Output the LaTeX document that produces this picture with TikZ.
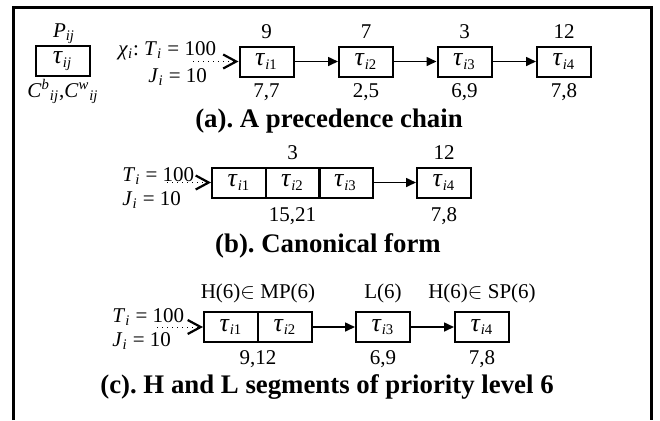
\documentclass[tikz,border=0pt]{standalone}
\usepackage{fontspec}
\setmainfont{Liberation Serif}
\usetikzlibrary{arrows.meta}
\frenchspacing
\newcommand{\tg}{{\fontsize{13}{13}\selectfont\textit{τ}}}
\newcommand{\tsk}[1]{\tg\textsubscript{\textit{i}#1}}
\newcommand{\tij}[1]{\textit{#1}\textsubscript{\textit{i}}}

\begin{document}
\begin{tikzpicture}[x=0.5pt,y=-0.5pt,
  font=\fontsize{10.5}{12.6}\selectfont,
  task/.style={draw, line width=1pt, minimum width=27pt, minimum height=15pt, inner sep=0pt},
  lbl/.style={anchor=base, inner sep=0pt},
  ttl/.style={anchor=base, inner sep=0pt, font=\fontsize{13.4}{16}\selectfont\bfseries},
  prec/.style={line width=0.8pt, -{Triangle[length=5pt,width=4.5pt]}},
  rel/.style={dotted, line width=0.5pt, -{Straight Barb[length=6.5pt,width=7pt,line width=1.1pt]}}]
\useasboundingbox (0,0) rectangle (660,420);
\draw[line width=1.5pt] (13.5,420) -- (13.5,7.5) -- (651,7.5) -- (651,420);

\node[task] (t) at (62.5,61) {\tg\textsubscript{\textit{ij}}};
\node[lbl] (tp) at (64,37) {\textit{P}\textsubscript{\textit{ij}}};
\node[lbl] (tc) at (63,97) {\textit{C}\textsuperscript{\textit{b}}\textsubscript{\textit{ij}},\textit{C}\textsuperscript{\textit{w}}\textsubscript{\textit{ij}}};

\node[lbl, anchor=base west] (xa) at (118,55) {\textit{χ}\textsubscript{\textit{i}}: \tij{T} = 100};
\node[lbl, anchor=base west] (ja) at (148,82) {\tij{J} = 10};
\node[task] (a1) at (266.5,61.5) {\tsk{1}};
\node[task] (a2) at (366,61.5) {\tsk{2}};
\node[task] (a3) at (464.5,61.5) {\tsk{3}};
\node[task] (a4) at (564,61.5) {\tsk{4}};
\node[lbl] (pa1) at (266.5,38) {9};
\node[lbl] (pa2) at (366,38) {7};
\node[lbl] (pa3) at (464.5,38) {3};
\node[lbl] (pa4) at (564,38) {12};
\node[lbl] (ca1) at (266.5,97) {7,7};
\node[lbl] (ca2) at (366,97) {2,5};
\node[lbl] (ca3) at (464.5,97) {6,9};
\node[lbl] (ca4) at (564,97) {7,8};
\coordinate (sa) at (193,61.5);
\draw[rel] (sa) -- (a1.west);
\draw[prec] (a1.east) -- (a2.west);
\draw[prec] (a2.east) -- (a3.west);
\draw[prec] (a3.east) -- (a4.west);
\node[ttl] (ta) at (329,127) {(a). A precedence chain};

\node[lbl, anchor=base west] (xb) at (122,181) {\tij{T} = 100};
\node[lbl, anchor=base west] (jb) at (122,205) {\tij{J} = 10};
\node[task] (b1) at (239,182.5) {\tsk{1}};
\node[task] (b2) at (292.5,182.5) {\tsk{2}};
\node[task] (b3) at (345.5,182.5) {\tsk{3}};
\node[task] (b4) at (444,182.5) {\tsk{4}};
\node[lbl] (pb2) at (292.5,159) {3};
\node[lbl] (pb4) at (444,159) {12};
\node[lbl] (cb2) at (292.5,221) {15,21};
\node[lbl] (cb4) at (444,221) {7,8};
\coordinate (sb) at (167,182.5);
\draw[rel] (sb) -- (b1.west);
\draw[prec] (b3.east) -- (b4.west);
\node[ttl] (tb) at (328,252) {(b). Canonical form};

\node[lbl, anchor=base west] (xc) at (112,322) {\tij{T} = 100};
\node[lbl, anchor=base west] (jc) at (112,346) {\tij{J} = 10};
\node[task] (c1) at (231,327) {\tsk{1}};
\node[task] (c2) at (285,327) {\tsk{2}};
\node[task] (c3) at (383,327) {\tsk{3}};
\node[task] (c4) at (482,327) {\tsk{4}};
\node[lbl] (sc1) at (258,298) {H(6)$\in$ MP(6)};
\node[lbl] (sc3) at (383,298) {L(6)};
\node[lbl] (sc4) at (482,298) {H(6)$\in$ SP(6)};
\node[lbl] (cc2) at (258,364) {9,12};
\node[lbl] (cc3) at (383,364) {6,9};
\node[lbl] (cc4) at (482,364) {7,8};
\coordinate (sc) at (157,327);
\draw[rel] (sc) -- (c1.west);
\draw[prec] (c2.east) -- (c3.west);
\draw[prec] (c3.east) -- (c4.west);
\node[ttl] (tc) at (327,393) {(c). H and L segments of priority level 6};
\end{tikzpicture}
\end{document}
